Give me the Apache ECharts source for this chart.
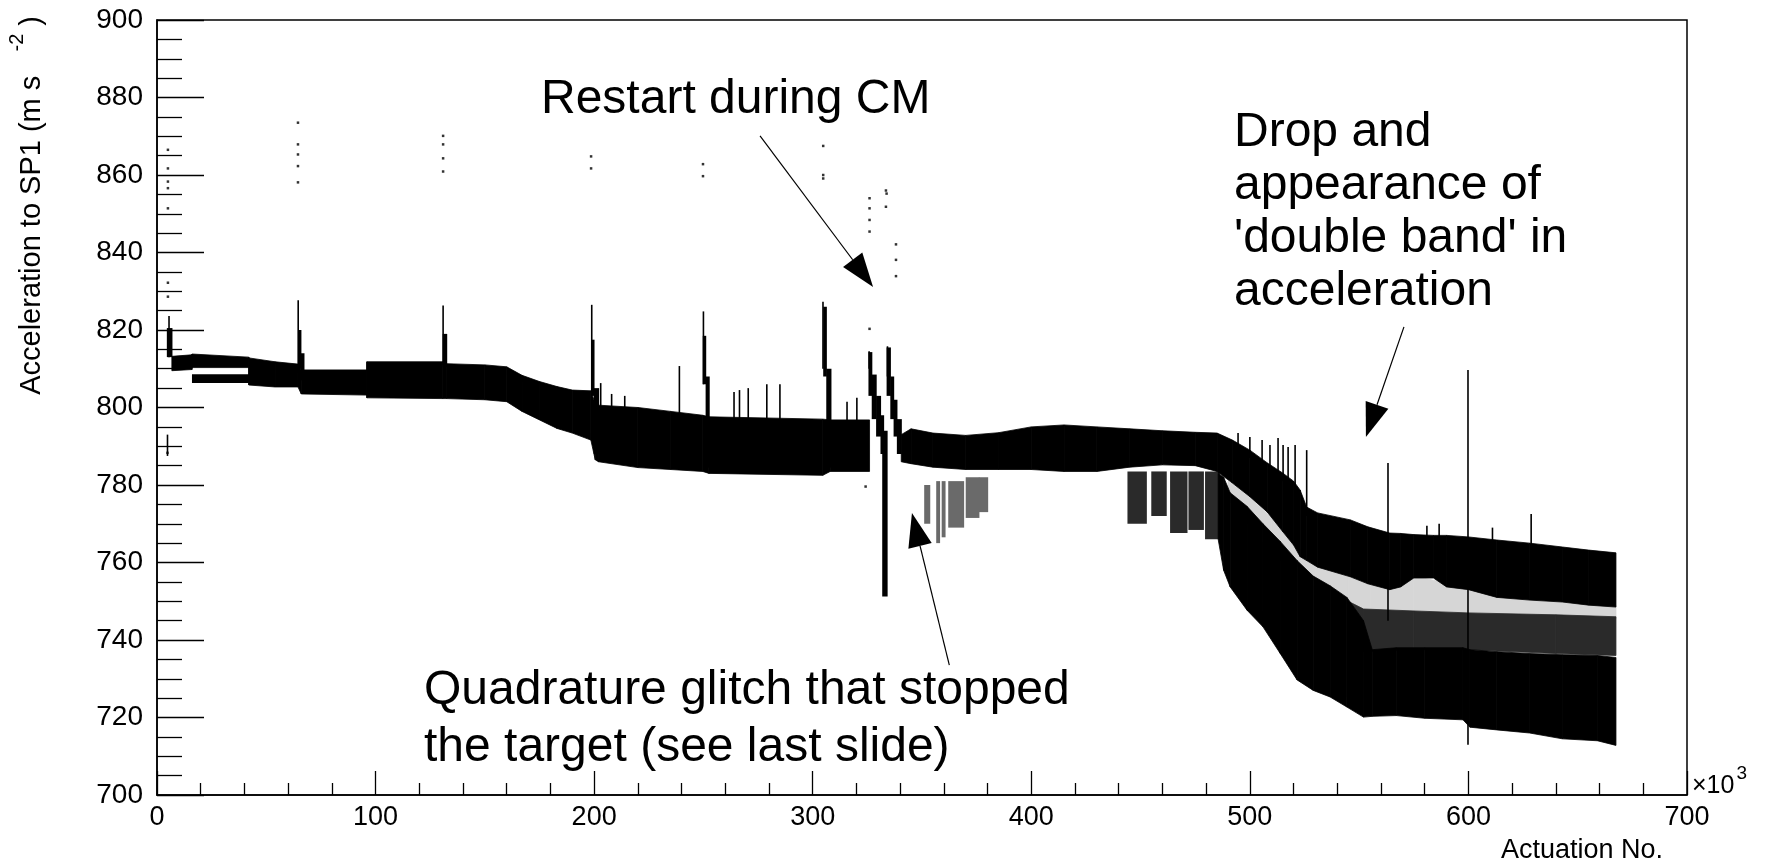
<!DOCTYPE html>
<html>
<head>
<meta charset="utf-8">
<title>Acceleration to SP1 vs actuation number</title>
<script src="https://cdn.jsdelivr.net/npm/echarts@6.0.0/dist/echarts.min.js"></script>
<style>
  html, body { margin: 0; padding: 0; background: #fff; }
  #chart { width: 1768px; height: 865px; }
</style>
</head>
<body>
<div id="chart"></div>
<script>
// x in thousands of actuations, y in m s^-2
var xTicks = [0, 100, 200, 300, 400, 500, 600, 700];
var yTicks = [700, 720, 740, 760, 780, 800, 820, 840, 860, 880, 900];

// edges of the continuous bands: [x, yLow, yHigh]
var bandBeforeRestart = [
  [6.8, 809.5, 813.2],
  [16, 809.8, 813.6],
  [16, 810.3, 813.8],
  [42, 810.3, 813],
  [42, 805.8, 812.8],
  [54, 805.3, 811.8],
  [64.5, 805.3, 811.2],
  [66, 803.5, 809.7],
  [96, 803.2, 809.7],
  [96, 802.5, 811.8],
  [130.7, 802.3, 811.8],
  [132.5, 802.3, 811.3],
  [150, 802, 811],
  [160, 801.5, 810.5],
  [167, 799, 808.3],
  [175, 796.8, 806.7],
  [183, 794.6, 805.4],
  [190, 793.4, 804.5],
  [198.5, 791.6, 804.3],
  [200.5, 786.5, 801],
  [202, 786, 800.6],
  [220, 784.5, 800],
  [235, 784, 799],
  [249.7, 783.5, 798],
  [252.5, 783, 797.6],
  [304.6, 782.5, 797],
  [308, 783.5, 796.8],
  [326, 783.5, 796.8]
];

var bandAfterRestart = [
  [340.5, 786, 793],
  [345, 785.5, 794.5],
  [355, 784.6, 793.4],
  [370, 784, 792.8],
  [385, 784, 793.5],
  [400, 784, 795],
  [415, 783.5, 795.5],
  [430, 783.5, 795],
  [445, 784.6, 794.5],
  [460, 785.2, 794],
  [475, 785, 793.6],
  [485, 783.5, 793.4],
  [492, 780.5, 791.6],
  [500, 777, 789],
  [508, 773, 785.7],
  [515, 768, 783.1],
  [520, 764.5, 781],
  [523, 761.5, 778.7],
  [526, 760.5, 774.3],
  [531, 758.8, 772.8],
  [546, 756.3, 771],
  [554, 754.5, 769.2],
  [564, 753, 767.6],
  [569, 753.7, 767.5],
  [575, 756, 767.2],
  [584, 756, 767],
  [590, 753.7, 767],
  [600, 753, 766.6],
  [613, 751, 765.8],
  [628, 750.3, 765],
  [643, 749.8, 764],
  [655, 749, 763.2],
  [667.5, 748.5, 762.5]
];

// lower half of the 'double band'
var lowerBand = [
  [485.5, 766, 783],
  [488, 758, 782],
  [491, 753.7, 778],
  [498.7, 747.7, 774.5],
  [506, 743.4, 770],
  [513.8, 736.6, 765.5],
  [521.6, 729.7, 760.5],
  [529, 727, 756.5],
  [536.7, 725.3, 754],
  [544.4, 722.7, 751],
  [552, 720.1, 745],
  [556, 720.3, 737.5],
  [567, 720.5, 738],
  [580, 719.8, 738],
  [597.5, 719.4, 738],
  [600.7, 717.5, 737.5],
  [613, 716.8, 737],
  [628, 716, 736.5],
  [643, 714.5, 736.2],
  [659, 714, 736],
  [667.5, 712.8, 735.5]
];

// half-filled top of the lower band
var lowerBandTop = [
  [545, 746, 750],
  [552, 737, 748],
  [575, 737.5, 747.5],
  [600, 737.5, 747],
  [640, 736.5, 746.5],
  [667.5, 736, 746]
];

// gap between the two bands, only a few points
var bandGap = [
  [490, 776, 781],
  [500, 771.5, 777],
  [510, 765.5, 771.5],
  [520, 760, 765],
  [530, 755, 759.5],
  [545, 749, 757],
  [555, 747, 755],
  [575, 747, 756.5],
  [600, 746.5, 753.5],
  [640, 746, 750.5],
  [667.5, 745.5, 749]
];

// decays after restarts and other short blocks: [x0, x1, yLow, yHigh]
var decayBlocks = [
  [4.5, 6.8, 813, 820.5],
  [16, 42, 806.3, 808.6],
  [64.5, 65.8, 810, 820],
  [65.8, 67.2, 807, 814],
  [130.7, 132.5, 810.5, 819],
  [198.6, 199.9, 803, 817.5],
  [199.8, 202, 788, 805],
  [249.7, 251, 806, 818.5],
  [251, 252.6, 784.5, 808],
  [304.8, 306.2, 808, 826],
  [306.2, 308.3, 784.5, 810],
  [325.5, 327, 803, 814.3],
  [327, 329, 797, 808.5],
  [329, 331, 792.5, 803],
  [331, 332.4, 788, 798],
  [331.8, 334, 751.2, 794],
  [333.8, 335.5, 803, 815.5],
  [335.5, 337, 797, 808],
  [337, 338.5, 792.5, 802],
  [338.5, 340.5, 788, 797]
];

// streaks below the band before the drop
var preDropStreaks = [
  [444, 452.6, 770, 783.5],
  [454.9, 461.7, 772, 783.5],
  [463.5, 471.2, 767.6, 783.5],
  [471.9, 478.7, 768.4, 783.5],
  [479.5, 486, 766, 783.5]
];

// scattered points after the glitch
var glitchCluster = [
  [351, 353.5, 770, 780],
  [356.5, 358, 765, 781],
  [359, 360.5, 766.5, 781],
  [362, 369, 769, 781],
  [370, 376, 771.5, 782],
  [376, 380, 773, 782]
];

// single-line excursions: [x, yLow, yHigh]
var spikes = [
  [4.8, 787.5, 793],
  [5.5, 813, 823.6],
  [64.6, 809, 827.7],
  [130.9, 811, 826.3],
  [198.9, 804, 826.5],
  [203, 798, 806.3],
  [208, 800, 803.5],
  [214, 800, 803],
  [239, 797, 810.7],
  [250, 806, 824.8],
  [264, 796, 804],
  [266.5, 796, 804.5],
  [270.5, 796, 805],
  [279, 796, 806],
  [285, 796, 806],
  [304.7, 810, 827.3],
  [315.7, 796, 801.5],
  [320.2, 796, 802.5],
  [325.8, 810, 814.5],
  [334.2, 808, 815.8],
  [494.6, 790, 793.4],
  [500, 787, 792.4],
  [505.6, 785, 791.6],
  [509.2, 784, 790.3],
  [512.9, 783, 792.1],
  [515.2, 781, 790.3],
  [517.5, 780, 789.8],
  [520.7, 777, 790.3],
  [526, 772, 789],
  [547, 768, 770.5],
  [563.2, 745, 785.7],
  [581, 766, 769.5],
  [586.6, 766, 770],
  [599.8, 713, 809.7],
  [611, 764, 769],
  [628.7, 764, 772.5]
];

// isolated points
var outliers = [
  [5, 866.5], [5, 861.7], [5, 858.3], [5, 856.6], [5, 851.4], [5, 832.2], [5, 828.6], [4.8, 788.3],
  [64.5, 873.5], [64.5, 867.9], [64.5, 865.3], [64.5, 862.3], [64.5, 858.1],
  [130.9, 870.1], [130.9, 867.9], [130.9, 864.3], [130.9, 860.9],
  [198.6, 864.8], [198.6, 861.7],
  [249.8, 862.8], [249.8, 859.7],
  [304.8, 867.5], [304.8, 860], [304.8, 859.1],
  [326, 854], [326, 851.4], [326, 848.4], [326, 845.4], [326, 820.3],
  [333.5, 856], [333.8, 855.2], [333.5, 851.8],
  [338.1, 842.1], [338.1, 838.1], [338.1, 833.9],
  [324.2, 779.6]
];

// annotation arrows: [xStart, yStart, xTip, yTip]
var arrows = [
  [275.9, 870.1, 327.6, 831.1],
  [570.5, 820.8, 553.1, 792.4],
  [362.5, 733.5, 345.4, 772.8]
];

var FONT = "'Liberation Sans', Arial, sans-serif";

// filled area between yLow and yHigh, joining one edge point to the next
function profileSeries(points, color) {
  return {
    type: "custom",
    data: points,
    silent: true,
    renderItem: function (params, api) {
      var i = params.dataIndex;
      if (i >= points.length - 1) return null;
      var b = points[i + 1];
      var pts = [
        api.coord([api.value(0), api.value(1)]),
        api.coord([api.value(0), api.value(2)]),
        api.coord([b[0], b[2]]),
        api.coord([b[0], b[1]])
      ];
      return {
        type: "polygon",
        shape: { points: pts },
        style: { fill: color, stroke: color, lineWidth: 0.8 }
      };
    }
  };
}

function blockSeries(data, color) {
  return {
    type: "custom",
    data: data,
    silent: true,
    renderItem: function (params, api) {
      var lt = api.coord([api.value(0), api.value(3)]);
      var rb = api.coord([api.value(1), api.value(2)]);
      return {
        type: "rect",
        shape: { x: lt[0], y: lt[1], width: rb[0] - lt[0] + 0.6, height: rb[1] - lt[1] },
        style: { fill: color }
      };
    }
  };
}

var chart = echarts.init(document.getElementById("chart"), null, { renderer: "canvas" });

chart.setOption({
  animation: false,
  backgroundColor: "#fff",
  grid: {
    left: 157, right: 81, top: 20, bottom: 70,
    show: true, borderColor: "#000", borderWidth: 1.5, backgroundColor: "transparent"
  },
  xAxis: {
    type: "value",
    min: xTicks[0],
    max: xTicks[xTicks.length - 1],
    interval: 100,
    axisLine: { lineStyle: { color: "#000", width: 1.5 } },
    axisTick: { inside: true, length: 24, lineStyle: { color: "#000", width: 1.3 } },
    minorTick: { show: true, splitNumber: 5, length: 12, lineStyle: { color: "#000", width: 1.3 } },
    splitLine: { show: false },
    axisLabel: {
      margin: 9, color: "#000", fontSize: 27, fontFamily: FONT,
      showMinLabel: true, showMaxLabel: true
    }
  },
  yAxis: {
    type: "value",
    min: yTicks[0],
    max: yTicks[yTicks.length - 1],
    interval: 20,
    axisLine: { lineStyle: { color: "#000", width: 1.5 } },
    axisTick: { inside: true, length: 47, lineStyle: { color: "#000", width: 1.3 } },
    minorTick: { show: true, splitNumber: 4, length: 25, lineStyle: { color: "#000", width: 1.3 } },
    splitLine: { show: false },
    axisLabel: {
      margin: 14, color: "#000", fontSize: 28, fontFamily: FONT,
      showMinLabel: true, showMaxLabel: true
    }
  },
  series: [
    profileSeries(bandGap, "#d6d6d6"),
    blockSeries(glitchCluster, "#6a6a6a"),
    blockSeries(preDropStreaks, "#2a2a2a"),
    profileSeries(lowerBandTop, "#2a2a2a"),
    profileSeries(bandBeforeRestart, "#000"),
    profileSeries(bandAfterRestart, "#000"),
    profileSeries(lowerBand, "#000"),
    blockSeries(decayBlocks, "#000"),
    {
      type: "custom",
      data: spikes,
      silent: true,
      renderItem: function (params, api) {
        var a = api.coord([api.value(0), api.value(1)]);
        var b = api.coord([api.value(0), api.value(2)]);
        return {
          type: "line",
          shape: { x1: a[0], y1: a[1], x2: b[0], y2: b[1] },
          style: { stroke: "#000", lineWidth: 1.6 }
        };
      }
    },
    {
      type: "scatter",
      data: outliers,
      symbol: "rect",
      symbolSize: 2.5,
      silent: true,
      itemStyle: { color: "#000" }
    },
    {
      type: "custom",
      data: arrows,
      silent: true,
      renderItem: function (params, api) {
        var p1 = api.coord([api.value(0), api.value(1)]);
        var p2 = api.coord([api.value(2), api.value(3)]);
        var dx = p2[0] - p1[0], dy = p2[1] - p1[1];
        var len = Math.sqrt(dx * dx + dy * dy);
        var ux = dx / len, uy = dy / len;
        var headLen = 34, halfW = 12;
        var bx = p2[0] - ux * headLen, by = p2[1] - uy * headLen;
        return {
          type: "group",
          children: [
            {
              type: "line",
              shape: { x1: p1[0], y1: p1[1], x2: bx, y2: by },
              style: { stroke: "#000", lineWidth: 1.2 }
            },
            {
              type: "polygon",
              shape: { points: [[p2[0], p2[1]], [bx - uy * halfW, by + ux * halfW], [bx + uy * halfW, by - ux * halfW]] },
              style: { fill: "#000" }
            }
          ]
        };
      }
    }
  ],
  graphic: [
    {
      type: "text", x: 32, y: 16, rotation: Math.PI / 2,
      style: {
        text: "Acceleration to SP1 (m s   {sup|-2} )",
        fontSize: 29, fontFamily: FONT, fill: "#000",
        align: "right", verticalAlign: "middle",
        rich: { sup: { fontSize: 20, fontFamily: FONT, fill: "#000", padding: [0, 0, 30, 0] } }
      }
    },
    {
      type: "text", x: 1663, y: 851,
      style: {
        text: "Actuation No.", fontSize: 27, fontFamily: FONT, fill: "#000",
        align: "right", verticalAlign: "middle"
      }
    },
    {
      type: "text", x: 1692, y: 786,
      style: {
        text: "\u00d710{sup|3}", fontSize: 25, fontFamily: FONT, fill: "#000",
        align: "left", verticalAlign: "middle",
        rich: { sup: { fontSize: 19, fontFamily: FONT, fill: "#000", padding: [0, 0, 24, 2] } }
      }
    },
    {
      type: "text", x: 541, y: 100,
      style: {
        text: "Restart during CM", fontSize: 48, fontFamily: FONT, fill: "#000",
        align: "left", verticalAlign: "middle"
      }
    },
    {
      type: "text", x: 1234, y: 212,
      style: {
        text: "Drop and\nappearance of\n'double band' in\nacceleration",
        fontSize: 48, lineHeight: 53, fontFamily: FONT, fill: "#000",
        align: "left", verticalAlign: "middle"
      }
    },
    {
      type: "text", x: 424, y: 719,
      style: {
        text: "Quadrature glitch that stopped\nthe target (see last slide)",
        fontSize: 48, lineHeight: 57, fontFamily: FONT, fill: "#000",
        align: "left", verticalAlign: "middle"
      }
    }
  ]
});

window.addEventListener("resize", function () {
  chart.resize();
});
</script>
</body>
</html>
